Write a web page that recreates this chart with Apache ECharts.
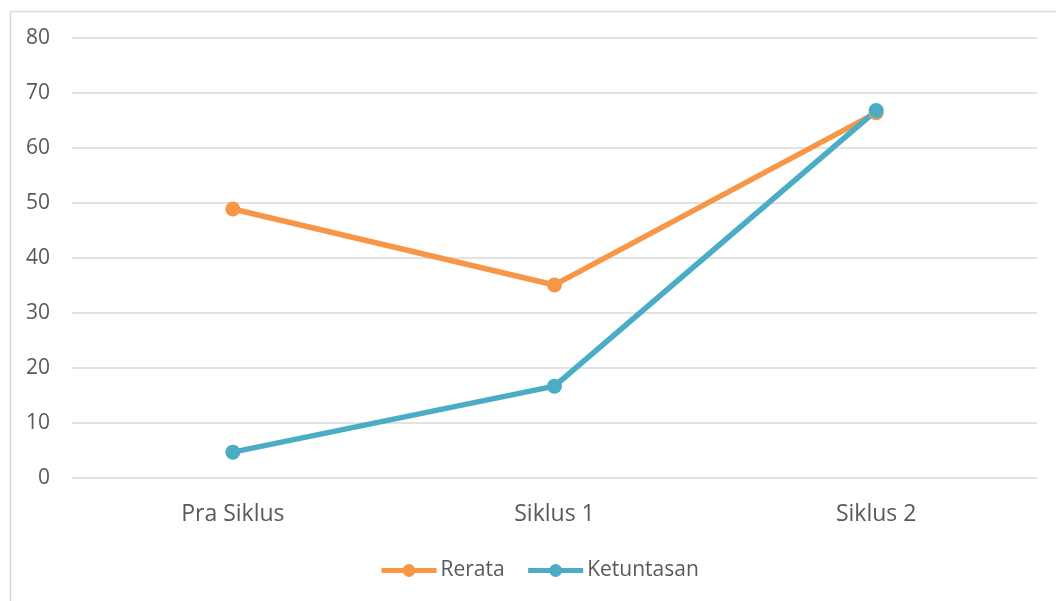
<!DOCTYPE html>
<html>
<head>
<meta charset="utf-8">
<script src="https://cdn.jsdelivr.net/npm/echarts@6/dist/echarts.min.js"></script>
<style>
html,body{margin:0;padding:0;background:#fff;}
#chart{width:1056px;height:601px;}
</style>
</head>
<body>
<div id="chart"></div>
<script>
const categories = ['Pra Siklus', 'Siklus 1', 'Siklus 2'];
const rerata = [48.9, 35.1, 66.4];
const ketuntasan = [4.7, 16.7, 66.8];
const yTicks = [0, 10, 20, 30, 40, 50, 60, 70, 80];

const FONT = 'Open Sans';
const chart = echarts.init(document.getElementById('chart'), null, {renderer: 'canvas'});
chart.setOption({
  animation: false,
  backgroundColor: '#fff',
  graphic: [{
    type: 'rect', left: 8, top: 9, silent: true, z: -10,
    shape: {width: 1100, height: 700},
    style: {fill: 'none', stroke: '#d9d9d9', lineWidth: 1.5}
  }],
  grid: {left: 72, right: 19, top: 38, bottom: 123},
  legend: {
    bottom: 15, left: 374,
    itemWidth: 55, itemHeight: 16, itemGap: 21,
    lineStyle: {width: 5},
    textStyle: {color: '#595959', fontSize: 21, fontFamily: FONT, padding: [0, 0, 0, -1]},
    data: ['Rerata', 'Ketuntasan']
  },
  xAxis: {
    type: 'category', data: categories, boundaryGap: true,
    axisLine: {show: false}, axisTick: {show: false},
    axisLabel: {color: '#595959', fontSize: 23, fontFamily: FONT, margin: 25}
  },
  yAxis: {
    type: 'value', min: yTicks[0], max: yTicks[yTicks.length - 1], interval: 10,
    axisLine: {show: false}, axisTick: {show: false},
    axisLabel: {color: '#595959', fontSize: 21, fontFamily: FONT, margin: 22},
    splitLine: {lineStyle: {color: '#d9d9d9', width: 1.5}}
  },
  series: [
    {
      name: 'Rerata', type: 'line', data: rerata,
      symbol: 'circle', symbolSize: 15,
      lineStyle: {color: '#F79646', width: 5.5},
      itemStyle: {color: '#F79646'}
    },
    {
      name: 'Ketuntasan', type: 'line', data: ketuntasan,
      symbol: 'circle', symbolSize: 15,
      lineStyle: {color: '#4BACC6', width: 5.5},
      itemStyle: {color: '#4BACC6'}
    }
  ]
});
</script>
</body>
</html>
